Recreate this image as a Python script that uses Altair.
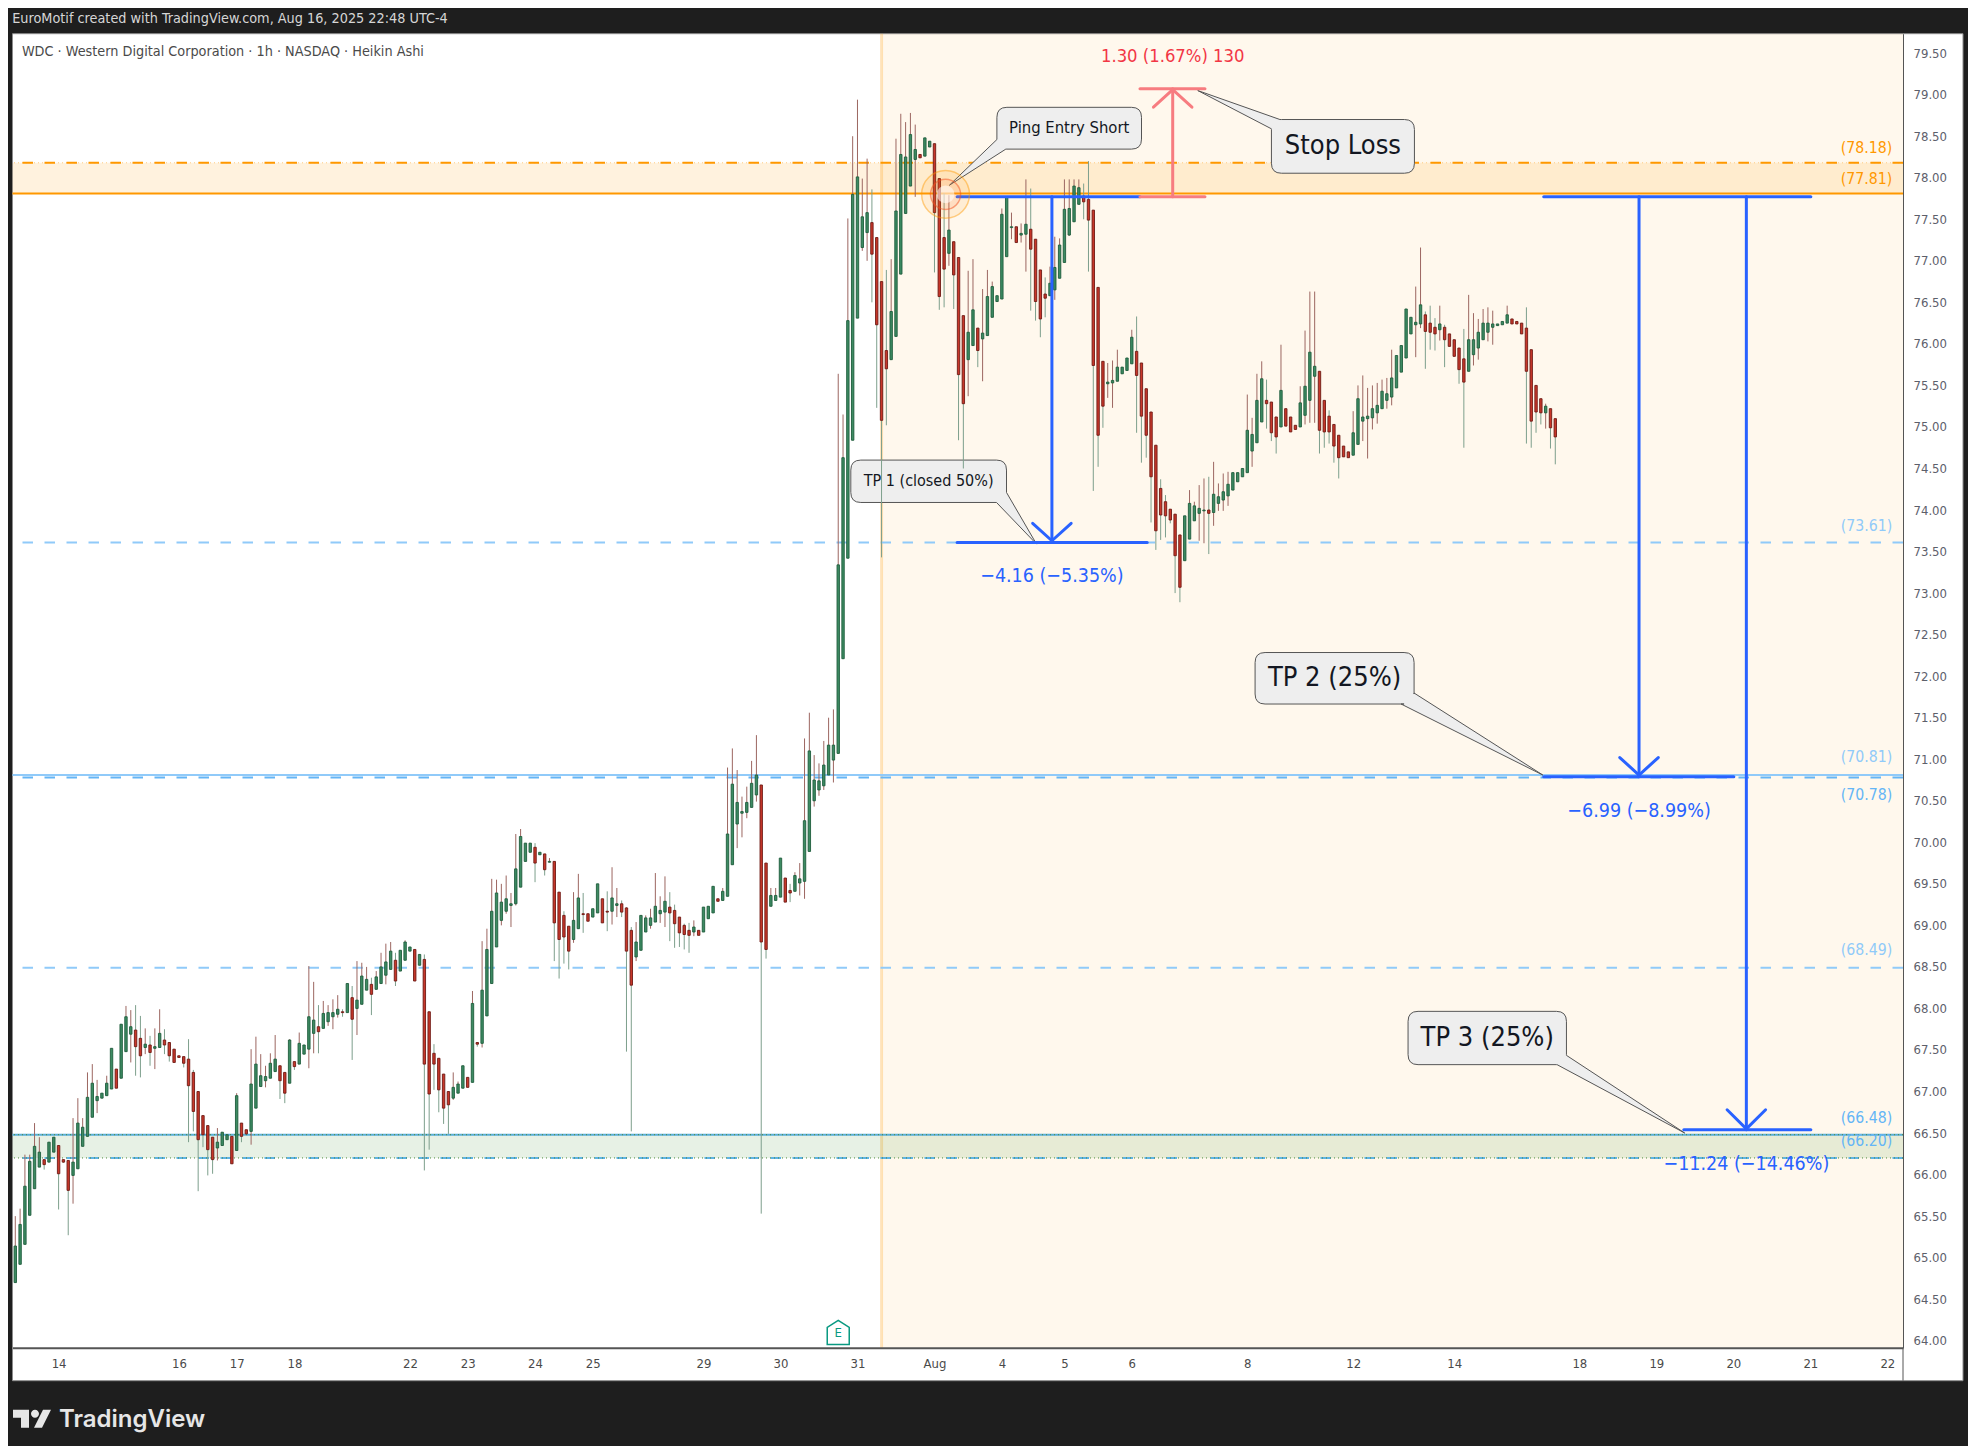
import json

import altair as alt
import pandas as pd

FONT = "DejaVu Sans Condensed"

# Heikin Ashi candles
opens = [
    64.70,64.92,65.16,65.51,65.83,66.09,66.18,66.15,66.27,66.35,
    66.18,66.17,65.99,66.07,66.34,66.46,66.69,66.89,66.92,66.95,
    67.03,67.27,67.16,67.48,67.69,67.74,67.64,67.53,67.56,67.52,
    67.53,67.62,67.59,67.51,67.43,67.42,67.39,67.23,67.00,66.71,
    66.59,66.45,66.32,66.35,66.42,66.46,66.29,66.62,66.54,66.52,
    66.80,67.06,67.13,67.16,67.24,67.31,67.23,67.10,67.36,67.33,
    67.45,67.51,67.70,67.78,67.76,67.84,67.90,67.93,67.96,67.95,
    68.13,68.00,68.05,68.22,68.29,68.23,68.30,68.40,68.47,68.58,
    68.45,68.58,68.69,68.71,68.52,68.59,67.96,67.46,67.40,67.21,
    67.00,66.92,66.98,67.04,67.17,67.11,67.59,67.58,67.91,68.30,
    68.74,69.06,69.17,69.24,69.26,69.46,69.77,69.88,69.94,69.85,
    69.86,69.76,69.77,69.40,69.12,68.99,68.83,68.96,69.14,69.14,
    69.10,69.15,69.32,69.17,69.17,69.24,69.26,69.21,68.94,68.62,
    68.70,68.92,69.00,69.04,69.14,69.16,69.22,69.18,69.10,69.00,
    68.94,68.92,68.94,68.92,69.08,69.15,69.32,69.30,69.35,69.73,
    70.22,70.35,70.36,70.42,70.57,70.69,69.75,69.23,69.30,69.34,
    69.57,69.42,69.41,69.51,69.53,69.89,70.50,70.63,70.68,70.81,
    70.99,71.07,72.21,73.42,74.84,76.31,77.16,77.34,77.46,77.28,
    76.75,75.92,75.81,76.09,76.84,77.57,77.90,78.22,78.28,78.26,
    78.37,78.41,77.99,77.28,77.09,77.23,77.04,76.34,75.81,75.98,
    76.19,76.06,76.10,76.32,76.51,76.54,77.05,77.40,77.41,77.31,
    77.32,77.38,77.26,76.89,76.60,76.58,76.65,76.79,76.98,77.31,
    77.47,77.68,77.78,77.74,77.61,76.68,75.79,75.52,75.53,75.55,
    75.64,75.68,75.76,75.91,75.77,75.46,75.18,74.78,74.26,74.10,
    74.01,73.95,73.70,73.39,73.65,73.87,73.96,73.99,74.00,73.97,
    74.08,74.12,74.17,74.24,74.34,74.40,74.45,74.71,74.81,75.06,
    75.32,75.30,75.12,75.00,75.22,75.12,75.02,75.00,75.14,75.32,
    75.61,75.67,75.32,75.13,75.03,74.90,74.77,74.70,74.66,74.79,
    75.07,75.10,75.11,75.17,75.22,75.32,75.36,75.47,75.66,75.83,
    76.12,76.23,76.24,76.35,76.25,76.20,76.17,76.20,76.12,76.05,
    75.95,75.82,75.67,75.87,75.95,76.05,76.14,76.20,76.22,76.23,
    76.25,76.30,76.27,76.25,76.19,75.93,75.50,75.34,75.17,75.22,75.10,
]
closes = [
    65.14,65.40,65.86,66.16,66.34,66.27,66.12,66.39,66.45,66.01,
    66.15,65.81,66.15,66.62,66.57,66.93,67.10,66.94,66.98,67.10,
    67.52,67.04,67.81,67.90,67.78,67.54,67.43,67.57,67.47,67.54,
    67.70,67.56,67.43,67.35,67.41,67.34,67.07,66.76,66.42,66.48,
    66.30,66.18,66.39,66.51,66.48,66.13,66.95,66.46,66.49,67.09,
    67.33,67.19,67.18,67.34,67.39,67.13,66.98,67.62,67.30,67.58,
    67.56,67.90,67.86,67.72,67.94,67.95,67.95,67.99,67.95,68.30,
    67.87,68.10,68.39,68.35,68.17,68.38,68.50,68.56,68.69,68.33,
    68.70,68.80,68.74,68.33,68.65,67.33,66.97,67.33,67.02,66.80,
    66.84,67.05,67.09,67.31,67.05,68.06,67.57,68.22,68.71,69.17,
    69.39,69.28,69.32,69.26,69.68,70.07,69.99,69.99,69.75,69.88,
    69.67,69.77,69.03,68.83,68.86,68.69,69.06,69.33,69.13,69.05,
    69.20,69.50,69.03,69.16,69.33,69.26,69.16,68.69,68.28,68.80,
    69.12,69.09,69.09,69.23,69.18,69.29,69.15,69.02,68.91,68.89,
    68.88,68.98,68.88,69.22,69.23,69.47,69.29,69.41,70.10,70.70,
    70.48,70.37,70.48,70.71,70.81,68.80,68.71,69.36,69.36,69.81,
    69.28,69.39,69.60,69.56,70.26,71.10,70.75,70.74,70.93,71.17,
    71.17,73.34,74.63,76.28,77.80,78.01,77.53,77.58,77.08,76.23,
    75.08,75.70,76.39,77.60,78.28,78.25,78.52,78.34,78.24,78.48,
    78.44,77.58,76.57,76.90,77.37,76.83,75.63,75.28,76.14,76.41,
    75.92,76.13,76.57,76.69,76.58,77.56,77.77,77.41,77.22,77.33,
    77.44,77.14,76.51,76.30,76.55,76.73,76.92,77.19,77.62,77.63,
    77.90,77.88,77.71,77.49,75.74,74.90,75.25,75.54,75.56,75.72,
    75.72,75.83,76.08,75.62,75.13,74.90,74.40,73.75,73.94,73.93,
    73.88,73.45,73.07,73.93,74.08,74.05,74.02,74.00,73.96,74.19,
    74.16,74.22,74.31,74.45,74.45,74.50,74.96,74.91,75.32,75.58,
    75.28,74.93,74.88,75.44,75.01,74.94,74.97,75.29,75.49,75.90,
    75.73,74.96,74.94,74.94,74.77,74.63,74.64,74.63,74.93,75.34,
    75.12,75.13,75.22,75.26,75.43,75.40,75.59,75.86,75.98,76.42,
    76.32,76.26,76.47,76.15,76.14,76.12,76.24,76.05,75.97,75.85,
    75.69,75.54,76.05,76.05,76.14,76.25,76.25,76.24,76.24,76.27,
    76.35,76.24,76.24,76.12,75.67,75.07,75.18,75.17,75.25,74.99,74.88,
]
highs = [
    65.50,65.59,66.24,66.24,66.62,66.45,66.18,66.39,66.45,66.35,
    66.18,66.17,66.68,66.92,66.68,67.23,67.33,67.14,66.98,67.19,
    67.52,67.27,67.81,68.03,67.98,68.04,67.91,67.76,67.67,67.76,
    67.99,67.75,67.59,67.51,67.43,67.42,67.63,67.26,67.00,66.71,
    66.59,66.45,66.56,66.51,66.48,66.46,66.98,66.62,66.54,67.51,
    67.66,67.45,67.31,67.46,67.68,67.31,67.23,67.63,67.36,67.71,
    67.56,68.51,68.32,68.04,68.09,68.04,68.11,68.16,67.99,68.30,
    68.27,68.57,68.55,68.50,68.37,68.45,68.67,68.78,68.80,68.67,
    68.70,68.82,68.74,68.71,68.65,68.65,67.96,67.57,67.40,67.21,
    67.00,67.23,67.12,67.31,67.17,68.21,67.59,68.81,68.96,69.56,
    69.55,69.50,69.60,69.39,70.10,70.16,69.99,69.99,69.99,69.88,
    69.86,69.81,69.77,69.40,69.17,68.99,69.40,69.62,69.39,69.14,
    69.20,69.50,69.32,69.41,69.70,69.45,69.30,69.22,68.98,69.04,
    69.12,69.12,69.20,69.63,69.35,69.59,69.40,69.25,69.10,69.02,
    69.03,69.06,68.94,69.22,69.23,69.47,69.32,69.45,70.90,71.13,
    70.87,70.55,70.67,70.98,71.29,70.69,69.75,69.45,69.45,69.81,
    69.57,69.50,69.64,69.75,71.25,71.56,71.05,70.95,71.22,71.50,
    71.60,75.64,75.15,77.51,78.50,78.94,77.99,78.23,77.86,77.28,
    76.75,76.89,77.02,78.47,78.77,78.67,78.78,78.64,78.28,78.48,
    78.44,78.41,77.99,77.81,77.79,77.23,77.04,76.34,76.88,77.02,
    76.19,76.66,76.89,76.75,76.58,77.63,77.77,77.58,77.41,77.45,
    77.98,77.87,77.26,76.89,76.80,76.93,77.29,77.27,77.98,77.98,
    77.98,77.98,77.93,78.20,77.61,76.68,75.79,75.77,75.80,75.93,
    75.72,75.83,76.17,76.33,75.77,75.46,75.18,74.78,74.37,74.18,
    74.01,73.95,73.70,73.93,74.24,74.10,74.30,74.38,74.40,74.58,
    74.32,74.44,74.46,74.45,74.45,74.50,75.39,75.11,75.64,75.79,
    75.57,75.30,75.12,75.99,75.22,75.12,75.02,75.49,76.16,76.63,
    76.63,75.67,75.32,75.20,75.03,74.90,74.77,74.70,75.19,75.50,
    75.62,75.47,75.50,75.53,75.57,75.59,75.93,75.86,75.98,76.42,
    76.32,76.69,77.16,76.39,76.46,76.31,76.46,76.23,76.12,76.05,
    75.95,76.18,76.59,76.37,76.30,76.42,76.44,76.40,76.24,76.27,
    76.46,76.30,76.27,76.25,76.44,75.93,75.50,75.34,75.28,75.22,75.10,
]
lows = [
    64.70,64.92,65.16,65.51,65.83,66.09,66.06,66.15,66.27,65.58,
    66.14,65.27,65.65,66.07,66.34,66.46,66.69,66.74,66.92,66.95,
    67.03,67.04,67.16,67.48,67.35,67.19,67.17,67.45,67.31,67.27,
    67.53,67.45,67.36,67.35,67.41,67.29,66.39,66.52,65.80,66.33,
    65.99,66.01,66.17,66.35,66.42,66.13,66.29,66.39,66.49,66.36,
    66.80,67.06,67.05,67.16,67.24,66.91,66.86,67.10,67.26,67.33,
    67.45,67.28,67.46,67.46,67.76,67.79,67.75,67.89,67.90,67.95,
    67.38,67.68,68.05,68.22,67.92,68.23,68.30,68.29,68.47,68.27,
    68.45,68.58,68.69,68.33,68.52,66.05,66.30,67.02,66.75,66.61,
    66.49,66.90,66.98,67.04,67.05,67.11,67.54,67.53,67.91,68.30,
    68.74,69.00,69.14,68.98,69.24,69.46,69.77,69.88,69.52,69.85,
    69.60,69.76,68.57,68.36,68.54,68.47,68.79,68.96,68.91,69.05,
    69.10,69.15,69.03,68.93,69.01,69.10,69.10,67.48,66.52,68.57,
    68.70,68.92,68.96,69.04,69.03,68.98,68.81,68.73,68.74,68.71,
    68.67,68.87,68.88,68.92,69.08,69.15,69.29,69.30,69.35,69.73,
    69.93,70.06,70.29,70.42,70.49,65.53,68.60,69.23,69.30,69.34,
    69.28,69.28,69.41,69.36,69.32,69.89,70.43,70.56,70.63,70.81,
    70.72,71.07,72.21,73.42,74.84,76.31,77.12,77.00,76.50,75.23,
    73.43,75.02,75.81,76.09,76.84,77.57,77.90,77.77,78.24,78.26,
    78.37,76.86,76.41,76.44,76.94,76.42,74.84,74.50,75.37,75.98,
    75.72,75.55,76.10,76.32,76.51,76.54,77.05,77.26,77.22,77.22,
    76.87,76.40,76.28,76.08,76.32,76.58,76.53,76.79,76.98,77.30,
    77.47,77.68,77.50,76.87,74.23,74.52,74.99,75.35,75.23,75.55,
    75.64,75.68,75.76,74.93,74.57,74.63,73.85,73.52,73.64,73.67,
    73.84,73.00,72.89,73.39,73.65,73.87,73.63,73.60,73.47,73.81,
    73.99,73.99,74.05,74.24,74.34,74.40,74.45,74.52,74.81,75.06,
    74.98,74.83,74.68,75.00,75.01,74.94,74.97,75.00,75.03,75.05,
    75.05,74.68,74.75,74.80,74.57,74.38,74.64,74.63,74.66,74.79,
    74.83,74.62,74.97,75.04,75.22,75.22,75.26,75.47,75.66,75.83,
    76.12,75.84,76.19,75.70,75.93,75.92,76.04,75.72,75.97,75.85,
    75.52,74.75,75.67,75.74,75.81,76.05,76.03,75.99,76.22,76.23,
    76.25,76.24,76.24,76.12,74.80,74.75,74.93,75.03,74.98,74.74,74.55,
]

tick_bars = [9, 34, 46, 58, 82, 94, 108, 120, 143, 159, 175, 191, 205, 218, 232, 256, 278, 299, 325, 341, 357, 373, 389]
tick_labels = ["14", "16", "17", "18", "22", "23", "24", "25", "29", "30", "31", "Aug", "4", "5", "6", "8", "12", "14", "18", "19", "20", "21", "22"]
price_ticks = [64 + 0.5 * i for i in range(32)]

shade_start = 180
bar_max = 392.25
price_min, price_max = 63.916, 79.734

# blue / red position tool segments
blue_x1 = [195.7, 195.7, 215.4, 211.4, 219.4, 317.6, 317.6, 346.7, 337.4, 359.7, 333.4, 341.4, 355.7, 363.7]
blue_x2 = [233.7, 235.2, 215.4, 215.4, 215.4, 373.1, 357.1, 373.1, 337.4, 359.7, 337.4, 337.4, 359.7, 359.7]
blue_y1 = [77.77, 73.61, 77.77, 73.84, 73.84, 77.77, 70.79, 66.54, 77.77, 77.77, 71.02, 71.02, 66.78, 66.78]
blue_y2 = [77.77, 73.61, 73.61, 73.63, 73.63, 77.77, 70.79, 66.54, 70.79, 66.54, 70.81, 70.81, 66.55, 66.55]
red_x1 = [233.7, 233.7, 240.5, 236.5, 244.5]
red_x2 = [247.2, 247.2, 240.5, 240.5, 240.5]
red_y1 = [79.07, 77.77, 77.77, 78.85, 78.85]
red_y2 = [79.07, 77.77, 79.07, 79.06, 79.06]

# callouts: tip bar, tip price, box and tail relative to the tip in px
callouts = [
    ("Ping Entry Short", 194.1, 77.91, (47.5, -77.9, 192.1, -36.1), "bl", (47.5, -45.7), (56.4, -36.1), 16.5),
    ("Stop Loss", 245.7, 79.05, (73.7, 29, 216.7, 82.7), "tl", (73.7, 38.3), (82.2, 29), 27),
    ("TP 1 (closed 50%)", 212.2, 73.59, (-185.7, -84, -30, -41.6), "br", (-30, -51.6), (-40, -41.6), 16),
    ("TP 2 (25%)", 317.4, 70.81, (-287.7, -122.5, -128.7, -71), "br", (-128.7, -82), (-141.7, -71), 27),
    ("TP 3 (25%)", 346.9, 66.50, (-276.7, -121.7, -118.3, -68.4), "br", (-118.3, -77.7), (-127.7, -68.4), 27),
]


def balloon(box, corner, a, b, r=10):
    x0, y0, x1, y1 = box
    tl = f"L{a[0]},{a[1]} L0,0 L{b[0]},{b[1]} L{x0 + r},{y0}" if corner == "tl" else f"Q{x0},{y0} {x0 + r},{y0}"
    br = f"L{a[0]},{a[1]} L0,0 L{b[0]},{b[1]} L{x1 - r},{y1}" if corner == "br" else f"Q{x1},{y1} {x1 - r},{y1}"
    bl = f"L{b[0]},{b[1]} L0,0 L{a[0]},{a[1]} L{x0},{y1 - r}" if corner == "bl" else f"Q{x0},{y1} {x0},{y1 - r}"
    return (
        f"M{x0 + r},{y0} L{x1 - r},{y0} Q{x1},{y0} {x1},{y0 + r} L{x1},{y1 - r} {br} "
        f"L{x0 + r},{y1} {bl} L{x0},{y0 + r} {tl} Z"
    )


# bars would add 5px of padding to a continuous x scale otherwise
x_scale = alt.Scale(domain=[-0.58, bar_max], nice=False, zero=False, padding=0)
y_scale = alt.Scale(domain=[price_min, price_max], nice=False, zero=False)
one = pd.DataFrame({"a": [0]})

# same axis on every layer: a null axis on the first layer would switch it off
x_axis = alt.Axis(
    orient="bottom", values=tick_bars, title=None, grid=False, ticks=False, zindex=1,
    labelExpr=json.dumps({str(k): v for k, v in zip(tick_bars, tick_labels)}) + "[datum.value]",
    labelFont=FONT, labelFontSize=13, labelColor="#4a4a4a", labelPadding=10,
    labelOverlap=False, labelFlush=False, labelBound=False,
    domainColor="#555555", domainWidth=2,
)
y_axis = alt.Axis(
    orient="right", values=price_ticks, format=".2f", title=None, grid=False, ticks=False, zindex=1,
    labelFont=FONT, labelFontSize=13, labelColor="#5d606b", labelPadding=10,
    labelOverlap=False, labelFlush=False, labelBound=False,
    domainColor="#555555", domainWidth=1,
)
X = lambda f: alt.X(f, scale=x_scale, axis=x_axis)
Y = lambda f: alt.Y(f, scale=y_scale, axis=y_axis)

df = pd.DataFrame({"bar": range(len(opens)), "o": opens, "h": highs, "l": lows, "c": closes})
df["dir"] = ["up" if c >= o else "down" for o, c in zip(opens, closes)]

layers = []

# white chart frame, behind everything
layers.append(
    alt.Chart(one).mark_rect(fill="white", stroke="#8c8c8c", strokeWidth=1).encode(
        x=alt.value(0), x2=alt.value(1950.5), y=alt.value(0), y2=alt.value(1347)
    )
)
layers.append(
    alt.Chart(one).mark_rule(color="#555555", strokeWidth=1).encode(
        x=alt.value(1890.5), y=alt.value(1314), y2=alt.value(1347)
    )
)

# position shade
shade = pd.DataFrame({"a": [shade_start], "b": [bar_max]})
layers.append(
    alt.Chart(shade).mark_rect(fill="#ff9800", opacity=0.07).encode(
        x=X("a:Q"), x2="b", y=alt.value(0), y2=alt.value(1314)
    )
)
layers.append(
    alt.Chart(shade).mark_rule(color="#ff9800", opacity=0.25, strokeWidth=3).encode(x=X("a:Q"))
)


def band(p1, p2, color, opacity):
    d = pd.DataFrame({"p1": [p1], "p2": [p2]})
    return alt.Chart(d).mark_rect(fill=color, opacity=opacity).encode(
        x=alt.value(0), x2=alt.value(1890.5), y=Y("p1:Q"), y2="p2"
    )


def hline(price, color, width, dash=None):
    kw = {"strokeDash": dash} if dash else {}
    d = pd.DataFrame({"p": [price]})
    return alt.Chart(d).mark_rule(color=color, strokeWidth=width, **kw).encode(y=Y("p:Q"))


DASH = [10.5, 11.5]
layers += [
    band(77.81, 78.18, "#ff9800", 0.13),
    band(66.20, 66.48, "#3f8f2f", 0.125),
    hline(78.18, "#ffcc80", 1, [1, 3]),
    hline(78.18, "#ff9800", 2, DASH),
    hline(77.81, "#ff9800", 2),
    hline(73.61, "#90caf9", 2, DASH),
    hline(70.81, "#90caf9", 2),
    hline(70.78, "#64b5f6", 2, DASH),
    hline(68.49, "#90caf9", 2, DASH),
    hline(66.48, "#5aaed8", 2),
    hline(66.20, "#5fb3e6", 2, DASH),
    hline(66.48, "#4c8a3a", 1, [1, 3]),
    hline(66.20, "#4c8a3a", 1, [1, 3]),
]

# callouts sit under the candles
for text, tbar, tprice, box, corner, a, b, fsize in callouts:
    d = pd.DataFrame({"bar": [tbar], "p": [tprice]})
    layers.append(
        alt.Chart(d).mark_point(
            shape=balloon(box, corner, a, b), size=4, filled=True, fill="#eeeeee",
            stroke="#555555", strokeWidth=1, opacity=1,
        ).encode(x=X("bar:Q"), y=Y("p:Q"))
    )
    layers.append(
        alt.Chart(d).mark_text(
            text=text, font=FONT, fontSize=fsize, color="#131722", align="center", baseline="middle",
            dx=(box[0] + box[2]) / 2, dy=(box[1] + box[3]) / 2,
        ).encode(x=X("bar:Q"), y=Y("p:Q"))
    )

# candles, wick colour is the opposite of the body
layers.append(
    alt.Chart(df).mark_rule(strokeWidth=1).encode(
        x=X("bar:Q"),
        y=Y("l:Q"),
        y2="h",
        color=alt.Color("dir:N", legend=None, scale=alt.Scale(domain=["up", "down"], range=["#9c6660", "#7d9f8c"])),
    )
)
layers.append(
    alt.Chart(df).mark_bar(size=2.4, strokeWidth=0.9, orient="vertical", opacity=1).encode(
        x=X("bar:Q"),
        y=Y("o:Q"),
        y2="c",
        fill=alt.Fill("dir:N", legend=None, scale=alt.Scale(domain=["up", "down"], range=["#3d8b63", "#c8372a"])),
        stroke=alt.Stroke("dir:N", legend=None, scale=alt.Scale(domain=["up", "down"], range=["#1e5c3c", "#6e1a14"])),
    )
)

# position tools
blue = pd.DataFrame({"x1": blue_x1, "x2": blue_x2, "y1": blue_y1, "y2": blue_y2})
red = pd.DataFrame({"x1": red_x1, "x2": red_x2, "y1": red_y1, "y2": red_y2})
for seg, col in ((blue, "#2962ff"), (red, "#f77c80")):
    layers.append(
        alt.Chart(seg).mark_rule(color=col, strokeWidth=3, strokeCap="round").encode(
            x=X("x1:Q"), x2="x2", y=Y("y1:Q"), y2="y2"
        )
    )


def label(text, bar, price, color, size, dy=0, align="center"):
    d = pd.DataFrame({"bar": [bar], "p": [price]})
    return alt.Chart(d).mark_text(
        text=text, color=color, font=FONT, fontSize=size, align=align, baseline="middle", dy=dy
    ).encode(x=X("bar:Q"), y=Y("p:Q"))


layers += [
    label("1.30 (1.67%) 130", 240.5, 79.45, "#f23645", 18.3),
    label("−4.16 (−5.35%)", 215.4, 73.21, "#2962ff", 19.5),
    label("−6.99 (−8.99%)", 337.4, 70.38, "#2962ff", 19.5),
    label("−11.24 (−14.46%)", 359.7, 66.13, "#2962ff", 19.5),
    label("(78.18)", 390, 78.18, "#ff9800", 15.7, -15, "right"),
    label("(77.81)", 390, 77.81, "#ff9800", 15.7, -15, "right"),
    label("(73.61)", 390, 73.61, "#90caf9", 15.7, -16, "right"),
    label("(70.81)", 390, 70.81, "#90caf9", 15.7, -18, "right"),
    label("(70.78)", 390, 70.78, "#64b5f6", 15.7, 17, "right"),
    label("(68.49)", 390, 68.49, "#90caf9", 15.7, -18, "right"),
    label("(66.48)", 390, 66.48, "#64b5f6", 15.7, -17, "right"),
    label("(66.20)", 390, 66.20, "#64b5f6", 15.7, -17, "right"),
]

# entry ping rings
ping = pd.DataFrame({"bar": [193.3], "p": [77.80]})
for size, fill, fop, stroke, sop in (
    (2290, "#ff9800", 0.1, "#ff9800", 0.45),
    (908, "#ff7043", 0.12, "#f4511e", 0.5),
    (314, "#ffffff", 0.55, "#ffffff", 0),
):
    layers.append(
        alt.Chart(ping).mark_point(
            shape="circle", size=size, filled=True, fill=fill, fillOpacity=fop,
            stroke=stroke, strokeOpacity=sop, strokeWidth=1.5, opacity=1,
        ).encode(x=X("bar:Q"), y=Y("p:Q"))
    )

# earnings marker
earn = pd.DataFrame({"bar": [171], "p": [64.10]})
layers.append(
    alt.Chart(earn).mark_point(
        shape="M0,-12 L11,-5 L11,12 L-11,12 L-11,-5 Z", size=4, filled=True, fill="#ffffff",
        stroke="#089981", strokeWidth=1.5, opacity=1,
    ).encode(x=X("bar:Q"), y=Y("p:Q"))
)
layers.append(label("E", 171, 64.10, "#089981", 13, 1))

# header and footer text
layers += [
    alt.Chart(one).mark_text(
        text="EuroMotif created with TradingView.com, Aug 16, 2025 22:48 UTC-4",
        font=FONT, fontSize=14.3, color="#d6d6d6", align="left", baseline="middle",
    ).encode(x=alt.value(-0.3), y=alt.value(-15)),
    alt.Chart(one).mark_text(
        text="WDC · Western Digital Corporation · 1h · NASDAQ · Heikin Ashi",
        font=FONT, fontSize=14.3, color="#4a4a4a", align="left", baseline="middle",
    ).encode(x=alt.value(9.4), y=alt.value(18)),
    alt.Chart(one).mark_point(
        shape="M0,0 L16,0 L16,18 L8,18 L8,8 L0,8 Z M18,4 A4,4 0 1,1 26,4 A4,4 0 1,1 18,4 Z M30,0 L38,0 L29,18 L21,18 Z",
        size=4, filled=True, fill="#e6e6e6", strokeWidth=0, opacity=1,
    ).encode(x=alt.value(0.5), y=alt.value(1376)),
    alt.Chart(one).mark_text(
        text="TradingView", font="Inter", fontSize=24, fontWeight=600, color="#e6e6e6",
        align="left", baseline="middle",
    ).encode(x=alt.value(46.5), y=alt.value(1386)),
]

chart = alt.layer(*layers).properties(
    width=1890.5,
    height=1314,
    background="#1e1e1e",
    padding={"left": 4.5, "top": 25.7, "right": 65, "bottom": 98.3},
    autosize=alt.AutoSizeParams(type="none"),
).configure_view(stroke=None)

chart.save("out.html", embed_options={"renderer": "svg", "actions": False})
